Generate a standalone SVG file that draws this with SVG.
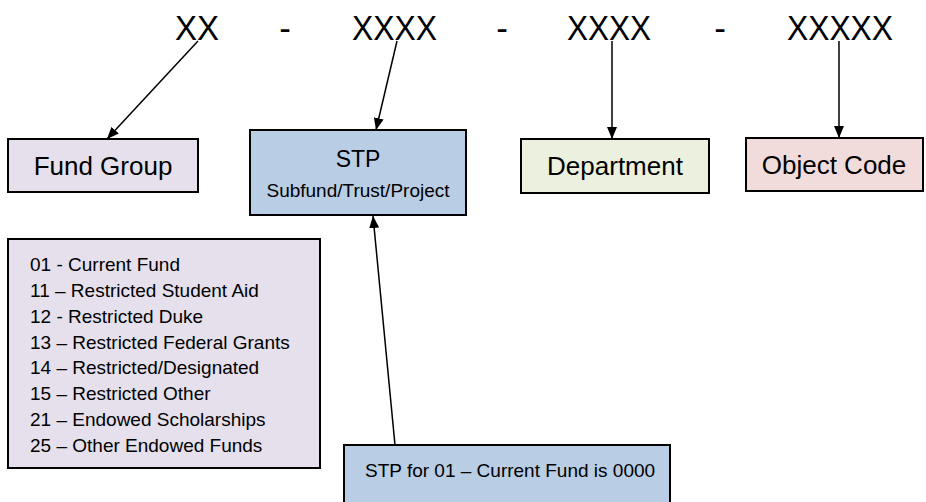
<svg xmlns="http://www.w3.org/2000/svg" width="926" height="502" viewBox="0 0 926 502">
<style>
text{font-family:"Liberation Sans",Arial,sans-serif;fill:#000}
.code{font-size:35px}
.box{stroke:#000;stroke-width:2}
.lbl{font-size:26px;text-anchor:middle}
.lst{font-size:19px}
.con{stroke:#000;stroke-width:1.5;fill:none;marker-end:url(#ah)}
</style>
<defs>
<marker id="ah" viewBox="0 0 12 10" refX="12" refY="5" markerWidth="12" markerHeight="10" markerUnits="userSpaceOnUse" orient="auto">
<path d="M0,0 L12,5 L0,10 Z" fill="#000"/>
</marker>
</defs>
<rect width="926" height="502" fill="#fff"/>
<g id="code">
<text class="code" x="175" y="40" textLength="44" lengthAdjust="spacingAndGlyphs">XX</text>
<text class="code" x="285" y="40" text-anchor="middle">-</text>
<text class="code" x="352" y="40" textLength="85" lengthAdjust="spacingAndGlyphs">XXXX</text>
<text class="code" x="502" y="40" text-anchor="middle">-</text>
<text class="code" x="567" y="40" textLength="84" lengthAdjust="spacingAndGlyphs">XXXX</text>
<text class="code" x="720" y="40" text-anchor="middle">-</text>
<text class="code" x="787" y="40" textLength="106" lengthAdjust="spacingAndGlyphs">XXXXX</text>
</g>
<g id="connectors">
<line class="con" x1="198" y1="41" x2="107" y2="139"/>
<line class="con" x1="397" y1="41" x2="376" y2="130"/>
<line class="con" x1="612" y1="41" x2="612" y2="139"/>
<line class="con" x1="839" y1="41" x2="839" y2="138"/>
<line class="con" x1="395" y1="445" x2="373" y2="216"/>
</g>
<g id="fund-group">
<rect class="box" x="8" y="139" width="190" height="53" fill="#e5e0ec"/>
<text class="lbl" x="103" y="175">Fund Group</text>
</g>
<g id="stp">
<rect class="box" x="250" y="130" width="216" height="85" fill="#b9cde5"/>
<text x="358" y="167" font-size="23" text-anchor="middle">STP</text>
<text x="358" y="197" font-size="19" text-anchor="middle">Subfund/Trust/Project</text>
</g>
<g id="department">
<rect class="box" x="521" y="139" width="188" height="54" fill="#ebf1de"/>
<text class="lbl" x="615" y="175">Department</text>
</g>
<g id="object-code">
<rect class="box" x="746" y="138" width="177" height="53" fill="#f2dcdb"/>
<text class="lbl" x="834" y="174">Object Code</text>
</g>
<g id="fund-list">
<rect class="box" x="8" y="239" width="312" height="229" fill="#e5e0ec"/>
<text class="lst" x="30" y="271">01 - Current Fund</text>
<text class="lst" x="30" y="297">11 – Restricted Student Aid</text>
<text class="lst" x="30" y="323">12 - Restricted Duke</text>
<text class="lst" x="30" y="349">13 – Restricted Federal Grants</text>
<text class="lst" x="30" y="374">14 – Restricted/Designated</text>
<text class="lst" x="30" y="400">15 – Restricted Other</text>
<text class="lst" x="30" y="426">21 – Endowed Scholarships</text>
<text class="lst" x="30" y="452">25 – Other Endowed Funds</text>
</g>
<g id="stp-note">
<rect class="box" x="344" y="445" width="326" height="70" fill="#b9cde5"/>
<text class="lst" x="365" y="477">STP for 01 – Current Fund is 0000</text>
</g>
</svg>
